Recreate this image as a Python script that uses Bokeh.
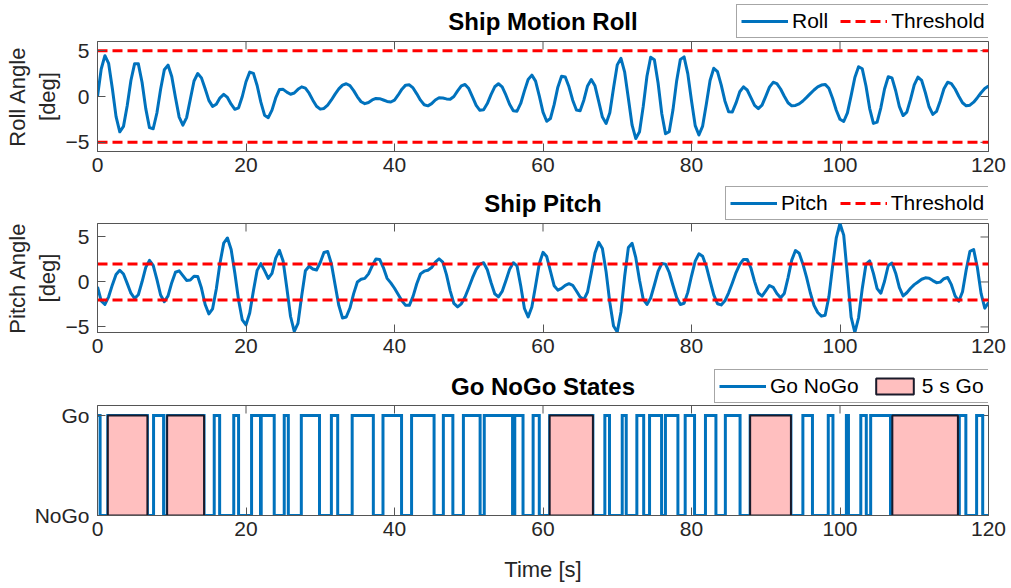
import numpy as np
from bokeh.plotting import figure
from bokeh.layouts import column
from bokeh.models import Range1d, FixedTicker, Legend, LegendItem
from bokeh.core.properties import value
from bokeh.embed import file_html
from bokeh.resources import INLINE

FONT = "Liberation Sans"
BLUE = "#0072BD"
RED = "#FF0000"
TEXT = "#262626"
BOX = "#555555"
PINK = "#FFBFBF"
EDGE = "#1A1A2A"
WIDTH = 1011
NAN = float("nan")

# ---- data -------------------------------------------------------------
time = np.arange(0, 120.5, 0.5)          # sample times [s]

roll = [
    0.0, 3.0, 4.45, 3.61, 0.87, -2.2, -3.85, -3.26, -1.01, 1.74,
    3.58, 3.56, 1.55, -1.32, -3.40, -3.52, -1.80, 0.80, 2.92, 3.43,
    2.19, -0.11, -2.25, -3.12, -2.30, -0.30, 1.69, 2.51, 2.03, 0.84,
    -0.42, -1.08, -0.85, -0.14, 0.24, -0.10, -0.84, -1.40, -1.23, 0.0,
    1.61, 2.66, 2.52, 1.20, -0.62, -2.04, -2.31, -1.48, -0.16, 0.76,
    0.78, 0.48, 0.25, 0.38, 0.78, 1.05, 0.91, 0.36, -0.40, -1.06,
    -1.38, -1.30, -0.94, -0.38, 0.26, 0.83, 1.24, 1.39, 1.18, 0.64,
    -0.03, -0.57, -0.78, -0.65, -0.38, -0.21, -0.24, -0.38, -0.54, -0.60,
    -0.39, 0.17, 0.80, 1.24, 1.28, 0.93, 0.29, -0.40, -0.90, -1.02,
    -0.78, -0.38, -0.14, -0.16, -0.26, -0.30, 0.00, 0.61, 1.16, 1.31,
    0.86, -0.03, -0.96, -1.51, -1.45, -0.77, 0.21, 1.06, 1.39, 1.05,
    0.17, -0.85, -1.55, -1.60, -0.76, 0.61, 1.86, 2.33, 1.68, 0.06,
    -1.70, -2.70, -2.40, -0.89, 1.02, 2.21, 2.13, 1.06, -0.40, -1.48,
    -1.56, -0.40, 1.15, 1.86, 1.16, -0.54, -2.24, -2.94, -1.78, 0.92,
    3.45, 4.16, 2.65, -0.22, -3.13, -4.59, -3.85, -1.08, 2.21, 4.29,
    4.02, 1.47, -1.88, -4.06, -3.84, -1.48, 1.70, 4.05, 4.32, 2.50,
    -0.47, -3.18, -4.20, -3.23, -0.81, 1.74, 3.08, 2.71, 1.27, -0.48,
    -1.66, -1.68, -0.70, 0.52, 1.06, 0.71, -0.13, -0.97, -1.32, -0.94,
    0.02, 1.02, 1.55, 1.41, 0.82, 0.03, -0.68, -1.02, -0.98, -0.80,
    -0.49, -0.10, 0.31, 0.71, 1.05, 1.25, 1.32, 0.90, -0.19, -1.50,
    -2.49, -2.73, -1.79, 0.10, 2.08, 3.25, 3.02, 1.14, -1.32, -2.93,
    -2.79, -1.23, 0.82, 2.16, 2.03, 0.63, -1.10, -2.08, -1.71, -0.32,
    1.26, 2.11, 1.75, 0.41, -1.12, -1.95, -1.63, -0.48, 0.84, 1.55,
    1.41, 0.82, 0.03, -0.68, -1.02, -0.95, -0.62, -0.13, 0.41, 0.87,
    1.14,
]

pitch = [
    -0.55, -2.1, -2.49, -1.65, -0.33, 0.83, 1.30, 0.88, -0.16, -1.25,
    -1.83, -1.42, 0.02, 1.62, 2.40, 1.85, 0.28, -1.45, -2.2, -1.55,
    -0.08, 1.08, 1.24, 0.71, 0.17, 0.22, 0.63, 0.61, -0.68, -2.51,
    -3.56, -2.98, -0.78, 2.10, 4.32, 4.89, 3.61, 0.98, -2.01, -4.22,
    -4.77, -3.45, -0.99, 1.29, 2.04, 1.26, 0.40, 0.96, 2.64, 3.52,
    2.32, -0.68, -3.84, -5.50, -4.60, -1.55, 1.24, 1.74, 1.44, 1.33,
    2.16, 3.28, 3.39, 2.02, -0.31, -2.61, -4.01, -3.9, -2.9, -1.3,
    0.0, 0.3, 0.4, 0.9, 1.8, 2.55, 2.5, 1.6, 0.4, -0.1,
    -0.7, -1.4, -2.1, -2.6, -2.6, -1.6, -0.2, 0.9, 1.2, 1.3,
    1.6, 2.2, 2.58, 2.21, 0.82, -0.99, -2.39, -2.77, -2.43, -1.67,
    -0.64, 0.45, 1.40, 1.99, 2.14, 1.36, -0.06, -1.31, -1.65, -1.05,
    0.14, 1.40, 2.14, 1.79, -0.43, -2.95, -3.88, -2.79, -0.42, 2.02,
    3.29, 2.83, 1.21, -0.42, -0.91, -0.72, -0.38, -0.19, -0.37, -1.00,
    -1.68, -1.96, -1.12, 1.00, 3.23, 4.40, 3.71, 1.12, -2.29, -4.90,
    -5.56, -3.34, 0.63, 3.84, 4.29, 2.70, 0.19, -1.93, -2.50, -1.78,
    -0.34, 1.17, 2.06, 1.98, 1.05, -0.37, -1.73, -2.51, -2.37, -1.16,
    0.66, 2.31, 3.13, 2.85, 1.72, 0.11, -1.44, -2.42, -2.55, -2.10,
    -1.21, -0.11, 1.04, 1.95, 2.51, 2.51, 1.55, 0.04, -1.23, -1.57,
    -0.98, -0.39, -0.60, -1.29, -1.76, -1.28, 0.46, 2.43, 3.49, 3.2,
    2.0, 0.5, -1.2, -2.6, -3.4, -3.8, -3.70, -1.68, 1.70, 4.91,
    6.50, 5.21, 0.73, -3.91, -5.62, -3.98, -0.72, 1.97, 2.34, 0.96,
    -0.74, -1.25, 0.08, 1.83, 2.11, 0.97, -0.64, -1.56, -1.2, -0.7,
    -0.3, 0.0, 0.3, 0.46, 0.42, 0.15, -0.08, -0.02, 0.36, 0.49,
    -0.30, -1.55, -2.14, -1.08, 1.35, 3.41, 3.61, 1.60, -1.27, -2.91,
    -2.3,
]

roll_threshold = [5, -5]
pitch_threshold = [2, -2]

# times at which the Go/NoGo state changes, and the state from then on (1 = Go)
go_times = [
    0.0, 0.35, 1.39, 6.72, 7.55, 8.9, 9.38, 14.35, 15.72, 16.45,
    18.35, 19.0, 20.75, 21.95, 22.05, 23.8, 25.15, 25.7, 27.45, 29.9,
    31.5, 32.35, 34.3, 37.15, 38.45, 40.95, 42.3, 45.33, 46.58, 47.86,
    49.28, 51.53, 52.09, 55.9, 56.2, 57.31, 58.67, 59.5, 60.9, 66.72,
    68.33, 68.96, 70.67, 71.21, 72.64, 73.56, 74.35, 75.97, 76.49, 78.17,
    79.15, 80.41, 81.88, 83.29, 84.56, 86.54, 87.9, 93.39, 95.0, 96.29,
    98.42, 99.05, 100.86, 101.14, 102.8, 103.54, 104.13, 106.8, 107.05, 115.88,
    116.07, 116.95, 118.4, 119.22, 120.0,
]
go_state = [
    1, 0, 1, 0, 1, 0, 1, 0, 1, 0,
    1, 0, 1, 0, 1, 0, 1, 0, 1, 0,
    1, 0, 1, 0, 1, 0, 1, 0, 1, 0,
    1, 0, 1, 0, 1, 0, 1, 0, 1, 0,
    1, 0, 1, 0, 1, 0, 1, 0, 1, 0,
    1, 0, 1, 0, 1, 0, 1, 0, 1, 0,
    1, 0, 1, 0, 1, 0, 1, 0, 1, 0,
    1, 0, 1, 0, 0,
]

# Go windows lasting at least 5 s
go5_start = [1.39, 9.38, 60.9, 87.9, 107.05]
go5_end = [6.72, 14.35, 66.72, 93.39, 115.88]

x_ticks = [0, 20, 40, 60, 80, 100, 120]
angle_ticks = [-5, 0, 5]
state_ticks = [0, 1]
state_labels = {0: "NoGo", 1: "Go"}


# ---- styling helpers --------------------------------------------------
def style_axis(ax, ticks):
    ax.ticker = FixedTicker(ticks=ticks)
    ax.major_tick_in = 8
    ax.major_tick_out = 0
    ax.minor_tick_line_color = None
    ax.axis_line_color = BOX
    ax.major_tick_line_color = BOX
    ax.major_label_text_font = FONT
    ax.major_label_text_font_size = "21px"
    ax.major_label_text_color = TEXT
    ax.axis_label_text_font = FONT
    ax.axis_label_text_font_size = "22px"
    ax.axis_label_text_font_style = "normal"
    ax.axis_label_text_color = TEXT


def make_panel(height, bottom, y_range, y_ticks):
    p = figure(width=WIDTH, height=height, x_range=Range1d(0, 120), y_range=y_range,
               output_backend="svg", toolbar_location=None, title=None,
               min_border_left=97, min_border_right=23,
               min_border_top=2, min_border_bottom=bottom)
    p.xgrid.visible = False
    p.ygrid.visible = False
    p.outline_line_color = BOX
    p.outline_line_width = 1
    style_axis(p.xaxis[0], x_ticks)
    style_axis(p.yaxis[0], y_ticks)
    p.xaxis[0].major_label_standoff = 6
    p.yaxis[0].major_label_standoff = 8
    p.yaxis[0].axis_label_standoff = 3
    # inward ticks mirrored on the top and right edges of the box
    y_top = y_range.end
    x_right = p.x_range.end
    p.scatter(x=x_ticks, y=[y_top] * len(x_ticks), marker="dash", angle=np.pi / 2,
              size=16, line_color=BOX, line_width=1)
    p.scatter(x=[x_right] * len(y_ticks), y=y_ticks, marker="dash",
              size=16, line_color=BOX, line_width=1)
    return p


def make_header(height, title, entries, legend_x, legend_y):
    """Title and legend row drawn above each panel (frame aligned with the panels)."""
    h = figure(width=WIDTH, height=height, x_range=Range1d(0, 120), y_range=Range1d(height, 0),
               x_axis_type=None, y_axis_type=None, output_backend="svg",
               toolbar_location=None, title=None,
               min_border_left=97, min_border_right=23, min_border_top=0, min_border_bottom=0)
    h.xgrid.visible = False
    h.ygrid.visible = False
    h.outline_line_color = None
    h.text(x=[(h.x_range.start + h.x_range.end) / 2], y=[21], text=[title],
           text_align="center", text_baseline="middle", text_font=value(FONT),
           text_font_size="24px", text_font_style="bold", text_color="#000000")
    items = []
    for label, kind, style in entries:
        # legend swatches: renderers that carry the style but no visible data
        if kind == "line":
            r = h.line(x=[NAN], y=[NAN], **style)
        else:
            r = h.quad(left=[NAN], right=[NAN], top=[NAN], bottom=[NAN], **style)
        items.append(LegendItem(label=label, renderers=[r]))
    legend = Legend(items=items, location=(legend_x, legend_y), orientation="horizontal",
                    label_text_font=FONT, label_text_font_size="21px",
                    label_text_color="#000000", glyph_width=47, glyph_height=20,
                    label_standoff=4, spacing=12, padding=4, margin=0,
                    border_line_color="#4D4D4D", border_line_width=1,
                    background_fill_color="white", background_fill_alpha=1.0)
    h.add_layout(legend, "center")
    return h


ROLL_STYLE = dict(line_color=BLUE, line_width=3)
THR_STYLE = dict(line_color=RED, line_width=3, line_dash="10 5")
BOX_STYLE = dict(fill_color=PINK, line_color=EDGE, line_width=2)

thr_x = [time[0], time[-1]]

# ---- roll -------------------------------------------------------------
h1 = make_header(39, "Ship Motion Roll",
                 [("Roll", "line", ROLL_STYLE), ("Threshold", "line", THR_STYLE)], 639, 1)
p1 = make_panel(143, 31, Range1d(-6, 6), angle_ticks)
p1.yaxis[0].axis_label = "Roll Angle\n[deg]"
p1.line(time, roll, line_join="round", **ROLL_STYLE)
for thr in roll_threshold:
    p1.line(thr_x, [thr, thr], **THR_STYLE)

# ---- pitch ------------------------------------------------------------
h2 = make_header(39, "Ship Pitch",
                 [("Pitch", "line", ROLL_STYLE), ("Threshold", "line", THR_STYLE)], 628, 1)
p2 = make_panel(144, 33, Range1d(min(pitch), max(pitch)), angle_ticks)
p2.yaxis[0].axis_label = "Pitch Angle\n[deg]"
p2.line(time, pitch, line_join="round", **ROLL_STYLE)
for thr in pitch_threshold:
    p2.line(thr_x, [thr, thr], **THR_STYLE)

# ---- go / nogo --------------------------------------------------------
h3 = make_header(38, "Go NoGo States",
                 [("Go NoGo", "line", ROLL_STYLE), ("5 s Go", "quad", BOX_STYLE)], 617, 0)
p3 = make_panel(185, 73, Range1d(0, 1.1), state_ticks)
p3.yaxis[0].major_label_overrides = state_labels
p3.xaxis[0].axis_label = "Time [s]"
p3.xaxis[0].axis_label_standoff = 18
p3.step(go_times, go_state, mode="after", line_join="miter", **ROLL_STYLE)
p3.quad(left=go5_start, right=go5_end,
        bottom=[state_ticks[0]] * len(go5_start),
        top=[state_ticks[1]] * len(go5_start), **BOX_STYLE)

layout = column(h1, p1, h2, p2, h3, p3, spacing=0)
open("out.html", "w").write(file_html(layout, INLINE))
